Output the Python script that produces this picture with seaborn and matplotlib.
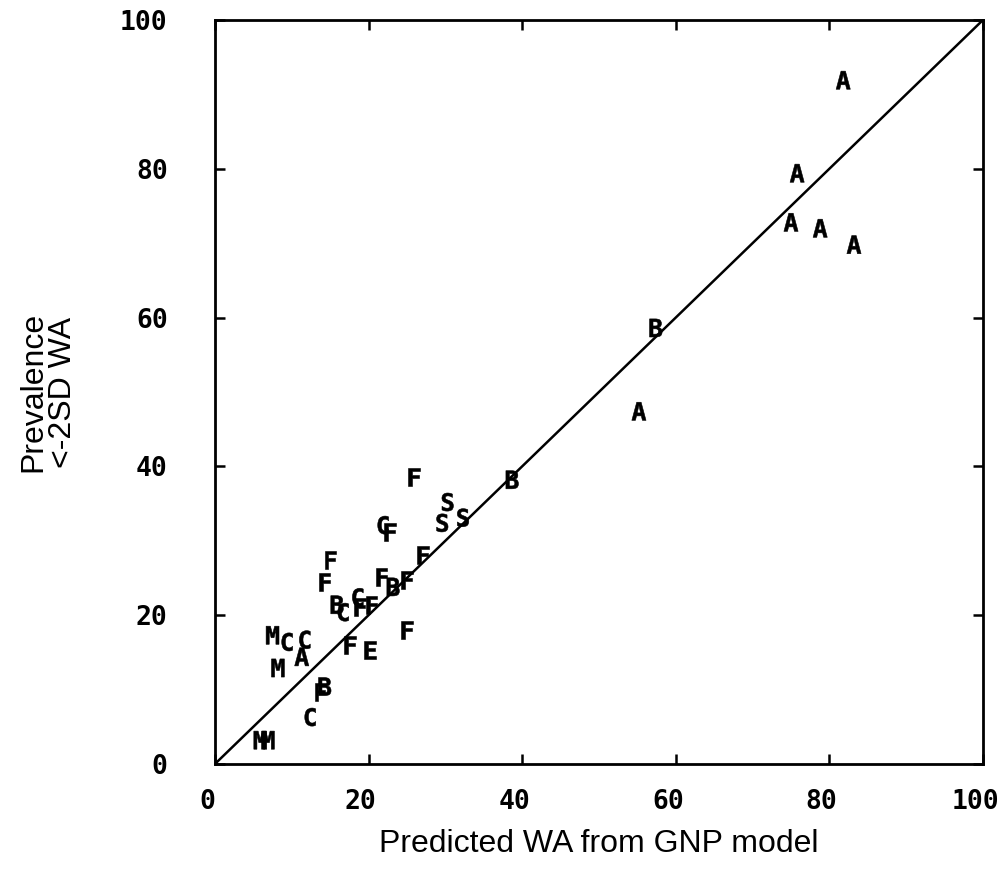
import matplotlib
matplotlib.use("Agg")
import matplotlib.pyplot as plt
import matplotlib.transforms as mtransforms
import pandas as pd
import seaborn as sns

# predicted (GNP model) vs observed prevalence, letter = group code
groups = ["A", "A", "A", "A", "A", "B", "A", "B",
          "F", "S", "S", "S", "C", "F", "F", "F", "F", "F", "B", "F",
          "B", "C", "C", "F", "F",
          "M", "C", "C", "A", "M", "F", "E", "F",
          "B", "F", "C", "M", "M"]
predicted = [81.8, 75.8, 75.0, 78.8, 83.2, 57.4, 55.2, 38.7,
             25.9, 30.3, 29.6, 32.3, 21.9, 22.8, 27.1, 15.0, 14.3, 21.7, 23.2, 25.0,
             15.9, 16.7, 18.6, 18.9, 20.4,
             7.5, 9.4, 11.7, 11.3, 8.2, 17.6, 20.2, 25.0,
             14.3, 13.7, 12.4, 5.9, 6.9]
prevalence = [91.9, 79.4, 72.8, 72.0, 69.8, 58.6, 47.4, 38.2,
              38.6, 35.2, 32.4, 33.1, 32.1, 31.2, 28.1, 27.4, 24.5, 25.1, 23.8, 24.7,
              21.4, 20.4, 22.4, 21.1, 21.4,
              17.3, 16.4, 16.7, 14.4, 12.9, 16.0, 15.3, 18.0,
              10.4, 9.7, 6.3, 3.2, 3.2]

line_x = [0, 100]
line_y = [0, 100]
ticks = [0, 20, 40, 60, 80, 100]

df = pd.DataFrame({"pred": predicted, "prev": prevalence, "grp": groups})

sns.set_style("ticks")
plt.rcParams["mathtext.fontset"] = "custom"
plt.rcParams["mathtext.tt"] = "DejaVu Sans Mono:bold"

fig = plt.figure(figsize=(10.04, 8.74), dpi=100)
ax = fig.add_axes([0.2141, 0.1259, 0.7650, 0.8513])

sns.lineplot(x=line_x, y=line_y, color="black", linewidth=1.8, ax=ax)

markers = {g: "$\\mathtt{%s}$" % g for g in sorted(set(groups))}
sns.scatterplot(data=df, x="pred", y="prev", style="grp", markers=markers,
                color="black", edgecolor="black", linewidth=0.4, s=170,
                legend=False, ax=ax)

ax.set_xlim(0, 100)
ax.set_ylim(0, 100)
ax.set_xticks(ticks)
ax.set_yticks(ticks)
for side in ["top", "bottom", "left", "right"]:
    ax.spines[side].set_linewidth(2)
    ax.spines[side].set_color("black")
ax.tick_params(direction="in", length=7, width=1.8, top=True, right=True,
               colors="black")
ax.tick_params(axis="x", pad=18)
ax.tick_params(axis="y", pad=34)

for lab in ax.get_xticklabels() + ax.get_yticklabels():
    lab.set_fontfamily(["DejaVu Sans Mono"])
    lab.set_fontweight("bold")
    lab.set_fontsize(19)
shift = mtransforms.ScaledTranslation(-8 / 100, 0, fig.dpi_scale_trans)
for lab in ax.get_xticklabels():
    lab.set_transform(lab.get_transform() + shift)

lab_font = dict(family=["Liberation Sans"], size=23, color="black")
ax.set_xlabel("Predicted WA from GNP model", labelpad=10, **lab_font)
ax.set_ylabel("Prevalence\n<-2SD WA", labelpad=30, linespacing=1.0, **lab_font)

fig.savefig("out.png", dpi=100, facecolor="white")
